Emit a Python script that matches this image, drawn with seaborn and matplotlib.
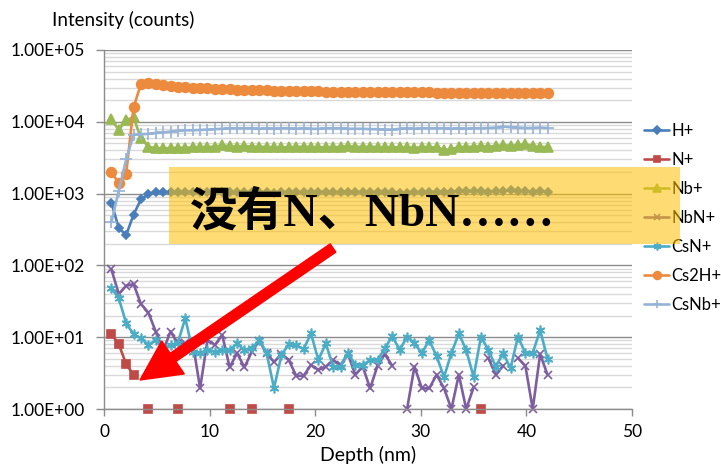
import numpy as np
import pandas as pd
import matplotlib
matplotlib.use("Agg")
import matplotlib.pyplot as plt
import seaborn as sns
from matplotlib.lines import Line2D
from matplotlib.patches import Rectangle, FancyArrow
from matplotlib.ticker import LogLocator, FixedLocator, FixedFormatter, NullFormatter

nan = np.nan

# ---------------- data ----------------
depth = [0.7, 1.4, 2.1, 2.8, 3.5, 4.2, 4.9, 5.6, 6.3, 7.0,
         7.7, 8.4, 9.1, 9.8, 10.5, 11.2, 11.9, 12.6, 13.3, 14.0,
         14.7, 15.4, 16.1, 16.8, 17.5, 18.2, 18.9, 19.6, 20.3, 21.0,
         21.7, 22.4, 23.1, 23.8, 24.5, 25.2, 25.9, 26.6, 27.3, 28.0,
         28.7, 29.4, 30.1, 30.8, 31.5, 32.2, 32.9, 33.6, 34.3, 35.0,
         35.7, 36.4, 37.1, 37.8, 38.5, 39.2, 39.9, 40.6, 41.3, 42.0]

h_plus = [750, 330, 265, 510, 830, 980, 1060, 1040, 1050, 1050,
          1060, 1050, 1060, 1050, 1040, 1050, 1060, 1050, 1040, 1050,
          1050, 1040, 1030, 1040, 1050, 1050, 1040, 1050, 1060, 1050,
          1040, 1050, 1050, 1060, 1050, 1040, 1050, 1050, 1040, 1030,
          1030, 1050, 1050, 1040, 1060, 1050, 1050, 1080, 1090, 1080,
          1090, 1060, 1080, 1090, 1120, 1070, 1080, 1060, 1070, 1060]

n_plus = [11, 8, 4.2, 3, nan, 1, nan, nan, nan, 1,
          nan, nan, nan, nan, nan, nan, 1, nan, nan, 1,
          nan, nan, nan, nan, 1, nan, nan, nan, nan, nan,
          nan, nan, nan, nan, nan, nan, nan, nan, nan, nan,
          nan, nan, nan, nan, nan, nan, nan, nan, nan, nan,
          1, nan, nan, nan, nan, nan, nan, nan, nan, nan]

nb_plus = [10800, 7700, 10600, 11500, 5900, 4500, 4300, 4300, 4300, 4350,
           4350, 4400, 4450, 4450, 4500, 4700, 4550, 4500, 4600, 4500,
           4500, 4450, 4400, 4450, 4400, 4450, 4500, 4450, 4400, 4450,
           4400, 4500, 4550, 4500, 4450, 4500, 4450, 4400, 4450, 4400,
           4400, 4350, 4400, 4450, 4400, 4050, 4150, 4450, 4450, 4500,
           4550, 4500, 4600, 4700, 4650, 4700, 4900, 4550, 4450, 4450]

nbn_plus = [88, 40, 52, 55, 29, 22, 12, 6.5, 12, 8.2,
            8.2, 8.5, 1.95, 9.1, 7.8, 10.7, 3.8, 6.0, 3.8, 6.3,
            8.9, 6.0, 4.5, 5.8, 4.8, 2.9, 2.9, 4.1, 3.5, 3.9,
            4.8, 4.1, 5.8, 3.0, 3.9, 1.94, 4.0, 5.8, 4.0, nan,
            1.0, 3.9, 1.94, 1.94, 3.0, 1.94, 1.0, 3.0, 1.0, 2.0,
            nan, 5.1, 3.0, 4.0, nan, 5.1, 4.0, 1.0, 5.8, 3.0]

csn_plus = [48, 35, 15.6, 11, 9.7, 7.8, 9.1, 7.0, 7.8, 8.4,
            18.5, 6.3, 6.1, 6.6, 6.3, 6.6, 6.6, 8.2, 6.6, 7.0,
            9.1, 6.0, 1.95, 5.6, 8.0, 7.8, 6.8, 11.3, 4.8, 8.2,
            3.9, 3.9, 6.0, 4.1, 4.1, 4.8, 4.8, 7.0, 10.4, 6.6,
            10.2, 8.2, 6.0, 9.1, 5.4, 2.8, 6.0, 11.3, 6.6, 2.8,
            10.2, 6.6, 3.9, 6.0, 3.7, 10.2, 6.0, 6.0, 12.6, 5.0]

cs2h_plus = [2000, 1400, 1900, 16000, 33500, 34500, 33500, 32500, 31500, 31000,
             30500, 30000, 29500, 29500, 29000, 28500, 28500, 28000, 28000, 27800,
             27500, 27500, 27200, 27000, 27000, 26800, 26700, 26500, 26500, 26400,
             26300, 26200, 26200, 26100, 26000, 26000, 25900, 25800, 25800, 25700,
             25700, 25600, 25600, 25600, 25500, 25500, 25500, 25400, 25400, 25400,
             25300, 25300, 25300, 25200, 25200, 25200, 25100, 25100, 25100, 25100]

csnb_plus = [400, 1100, 3000, 6600, 6700, 6800, 7000, 7100, 7300, 7500,
             7600, 7600, 7700, 7800, 7900, 8000, 8100, 8100, 8100, 8100,
             8000, 8100, 8000, 8100, 8100, 8000, 8100, 8000, 8000, 8100,
             8100, 8100, 8000, 8000, 8000, 7900, 7900, 7800, 7800, 8000,
             8100, 8000, 8100, 8100, 8100, 8100, 8000, 8100, 8000, 8100,
             8100, 8200, 8300, 8600, 8400, 8300, 8200, 8200, 8300, 8200]

series_names = ["H+", "N+", "Nb+", "NbN+", "CsN+", "Cs2H+", "CsNb+"]
series_values = [h_plus, n_plus, nb_plus, nbn_plus, csn_plus, cs2h_plus, csnb_plus]

xticks = [0, 10, 20, 30, 40, 50]
yticks = [1, 10, 100, 1000, 10000, 100000]
ytick_labels = ["1.00E+00", "1.00E+01", "1.00E+02", "1.00E+03", "1.00E+04", "1.00E+05"]
y_title = "Intensity (counts)"
x_title = "Depth (nm)"
callout = "没有N、NbN……"

# ---------------- styles ----------------
styles = {
    "H+":    dict(color="#4A7EBB", marker="D", ms=4.5),
    "N+":    dict(color="#BE4B48", marker="s", ms=6),
    "Nb+":   dict(color="#98B954", marker="^", ms=6.5),
    "NbN+":  dict(color="#7D5FA0", marker="x", ms=6),
    "CsN+":  dict(color="#4BACC6", marker=(6, 2, 0), ms=7),
    "Cs2H+": dict(color="#EC8A3E", marker="o", ms=7),
    "CsNb+": dict(color="#95B3D7", marker="+", ms=8),
}

# long dataframe with segment ids (gaps at missing values)
rows = []
for name, vals in zip(series_names, series_values):
    seg = 0
    for d, v in zip(depth, vals):
        if v is None or (isinstance(v, float) and np.isnan(v)):
            seg += 1
            continue
        rows.append((name, d, v, seg))
df = pd.DataFrame(rows, columns=["series", "depth", "value", "seg"])

sns.set_theme(style="white")
plt.rcParams["font.family"] = ["Lato", "DejaVu Sans"]

fig = plt.figure(figsize=(7.21, 4.70), dpi=100)
ax = fig.add_axes([104 / 721, 61 / 470, 528 / 721, 359 / 470])
ax.set_yscale("log")

for name in series_names:
    st = styles[name]
    sub = df[df["series"] == name]
    sns.lineplot(data=sub, x="depth", y="value", units="seg", estimator=None,
                 color=st["color"], marker=st["marker"], markersize=st["ms"],
                 markeredgecolor=st["color"], markerfacecolor=st["color"],
                 markeredgewidth=1.2, lw=1.9, ax=ax, legend=False, clip_on=False)

ax.set_xlim(0, 50)
ax.set_ylim(1, 1e5)
ax.xaxis.set_major_locator(FixedLocator(xticks))
ax.yaxis.set_major_locator(FixedLocator(yticks))
ax.yaxis.set_major_formatter(FixedFormatter(ytick_labels))
ax.yaxis.set_minor_locator(LogLocator(base=10, subs=[2, 3, 4, 5, 6, 7, 8, 9]))
ax.yaxis.set_minor_formatter(NullFormatter())

ax.grid(False)
ax.grid(which="major", axis="y", color="#8C8C8C", lw=1.0)
ax.grid(which="minor", axis="y", color="#D9D9D9", lw=1.0)
ax.set_axisbelow(True)

for s in ["top", "right"]:
    ax.spines[s].set_visible(False)
for s in ["left", "bottom"]:
    ax.spines[s].set_color("#8C8C8C")
    ax.spines[s].set_linewidth(1.0)

ax.tick_params(axis="y", which="major", left=True, length=6, width=1, color="#8C8C8C",
               direction="out", pad=8, labelsize=12.5, labelcolor="black")
ax.tick_params(axis="y", which="minor", left=False, length=0)
ax.tick_params(axis="x", which="major", bottom=True, length=5, width=1, color="#8C8C8C",
               direction="out", pad=6, labelsize=12.5, labelcolor="black")

ax.set_xlabel(x_title, fontsize=14, color="black", labelpad=4)
ax.set_ylabel("")
fig.text(52 / 721, 1 - 20 / 470, y_title, fontsize=13.5, color="black", ha="left", va="center")

# legend
handles = [Line2D([], [], color=styles[n]["color"], marker=styles[n]["marker"],
                  markersize=styles[n]["ms"] * 0.8, markeredgecolor=styles[n]["color"],
                  markeredgewidth=1.2, lw=1.9) for n in series_names]
leg = fig.legend(handles, series_names, loc="upper left",
                 bbox_to_anchor=(644 / 721, 1 - 123 / 470), frameon=False,
                 fontsize=12, handlelength=1.5, handletextpad=0.15,
                 labelspacing=0.78, borderpad=0, borderaxespad=0)
for t in leg.get_texts():
    t.set_color("black")

# callout box, text and arrow
fig.add_artist(Rectangle((1.69, 2.26), 5.11, 0.77, transform=fig.dpi_scale_trans,
                         facecolor="#FFC000", alpha=0.55, edgecolor="none", zorder=6))
fig.text(1.90, 2.57, callout, transform=fig.dpi_scale_trans, fontsize=34,
         fontweight="bold", family=["Liberation Serif", "Noto Sans CJK SC"],
         color="black", ha="left", va="center", zorder=7)
fig.add_artist(FancyArrow(3.33, 2.22, -1.93, -1.32, width=0.10, head_width=0.40,
                          head_length=0.40, length_includes_head=True,
                          color="#FF0000", transform=fig.dpi_scale_trans, zorder=8))

fig.savefig("out.png", dpi=100)
